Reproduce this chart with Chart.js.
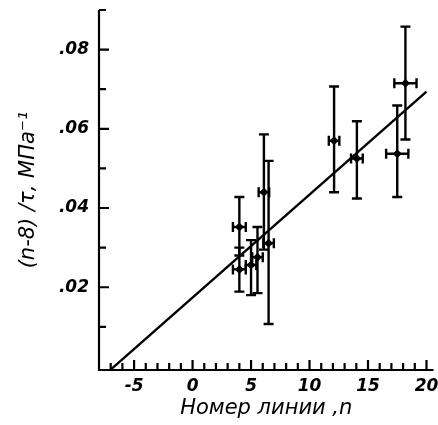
<!DOCTYPE html>
<html><head><meta charset="utf-8">
<script src="https://cdn.jsdelivr.net/npm/chart.js@4"></script>
<style>html,body{margin:0;padding:0;background:#fff}#w{width:438px;height:425px}</style>
</head><body><div id="w"><canvas id="c"></canvas></div>
<script>
// Data
const nLine   = [4.0, 4.0, 5.0, 5.55, 6.1, 6.5, 12.1, 14.05, 17.5, 18.2];
const yValue  = [0.0352, 0.0245, 0.0256, 0.0276, 0.0440, 0.0311, 0.0570, 0.0525, 0.0537, 0.0715];
const yLow    = [0.0280, 0.0189, 0.0180, 0.0185, 0.0295, 0.0107, 0.0440, 0.0424, 0.0428, 0.0573];
const yHigh   = [0.0428, 0.0300, 0.0319, 0.0352, 0.0586, 0.0519, 0.0707, 0.0619, 0.0659, 0.0858];
const xErr    = [0.55, 0.55, 0.45, 0.45, 0.45, 0.45, 0.45, 0.5, 0.95, 0.95];
const fitX    = [-7.0, 20.0];
const fitY    = [-0.0008, 0.0694];
const xTickLabels = [-5, 0, 5, 10, 15, 20];
const yTickLabels = [0.02, 0.04, 0.06, 0.08];
const xTitle = 'Номер линии ,n';
const yTitle = '(n-8) /τ, МПа⁻¹';

const pts = nLine.map((x,i)=>({x:x, y:yValue[i]}));
const fit = fitX.map((x,i)=>({x:x, y:fitY[i]}));

const errPlugin = {
  id:'err',
  afterDatasetsDraw(chart){
    const ctx = chart.ctx, xs = chart.scales.x, ys = chart.scales.y;
    ctx.save();
    ctx.strokeStyle = '#000'; ctx.lineWidth = 2.4; ctx.lineCap='butt';
    nLine.forEach((x,i)=>{
      const px = xs.getPixelForValue(x);
      const pl = ys.getPixelForValue(yLow[i]), ph = ys.getPixelForValue(yHigh[i]);
      ctx.beginPath();
      ctx.moveTo(px, pl); ctx.lineTo(px, ph);
      ctx.moveTo(px-5, pl); ctx.lineTo(px+5, pl);
      ctx.moveTo(px-5, ph); ctx.lineTo(px+5, ph);
      const py = ys.getPixelForValue(yValue[i]);
      const x1 = xs.getPixelForValue(x - xErr[i]), x2 = xs.getPixelForValue(x + xErr[i]);
      ctx.moveTo(x1, py); ctx.lineTo(x2, py);
      ctx.moveTo(x1, py-5); ctx.lineTo(x1, py+5);
      ctx.moveTo(x2, py-5); ctx.lineTo(x2, py+5);
      ctx.stroke();
    });
    ctx.restore();
  },
  afterDraw(chart){
    const ctx = chart.ctx, xs = chart.scales.x, ys = chart.scales.y, a = chart.chartArea;
    ctx.save();
    ctx.strokeStyle='#000'; ctx.lineWidth=2.2;
    ctx.beginPath();
    ctx.moveTo(a.left, a.top); ctx.lineTo(a.left, a.bottom); ctx.lineTo(a.right, a.bottom);
    for (let v=-7; v<=20; v++){
      const p = xs.getPixelForValue(v);
      const len = (v%5===0)?10:7;
      ctx.moveTo(p, a.bottom); ctx.lineTo(p, a.bottom-len);
    }
    for (let k=1; k<=9; k++){
      const p = ys.getPixelForValue(k*0.01);
      const len = (k%2===0)?10:7;
      ctx.moveTo(a.left, p); ctx.lineTo(a.left+len, p);
    }
    ctx.stroke();
    ctx.restore();
  }
};

const tickFont = {family:'DejaVu Sans', size:17, style:'italic', weight:'bold'};
const titleFont = {family:'DejaVu Sans', size:21, style:'italic'};

new Chart(document.getElementById('c'), {
  type:'scatter',
  data:{datasets:[
    {data:pts, pointStyle:'rectRot', pointRadius:4.5, backgroundColor:'#000', borderColor:'#000', pointBorderWidth:0},
    {data:fit, showLine:true, pointRadius:0, borderColor:'#000', borderWidth:2.4, fill:false, clip:false}
  ]},
  options:{
    responsive:true, maintainAspectRatio:false, animation:false,
    layout:{padding:{top:10, right:3, left:0, bottom:0}},
    plugins:{legend:{display:false}, tooltip:{enabled:false}},
    scales:{
      x:{type:'linear', min:-8, max:20.6,
        afterBuildTicks(s){ s.ticks = xTickLabels.map(v=>({value:v})); },
        afterFit(s){ s.height = 55; s.paddingLeft = 0; s.paddingRight = 0; },
        grid:{display:false, drawTicks:false}, border:{display:false},
        ticks:{color:'#000', font:tickFont, padding:6, maxRotation:0, autoSkip:false},
        title:{display:true, text:xTitle, color:'#000', font:titleFont, padding:{top:0,bottom:4}}
      },
      y:{type:'linear', min:-0.0009, max:0.09,
        afterBuildTicks(s){ s.ticks = yTickLabels.map(v=>({value:v})); },
        afterFit(s){ s.width = 99; s.paddingTop = 0; s.paddingBottom = 0; },
        grid:{display:false, drawTicks:false}, border:{display:false},
        ticks:{color:'#000', font:tickFont, padding:10, autoSkip:false,
          callback:(v)=>'.' + String(Math.round(v*100)).padStart(2,'0')},
        title:{display:true, text:yTitle, color:'#000', font:titleFont, padding:{top:16,bottom:0}}
      }
    }
  },
  plugins:[errPlugin]
});
</script></body></html>
